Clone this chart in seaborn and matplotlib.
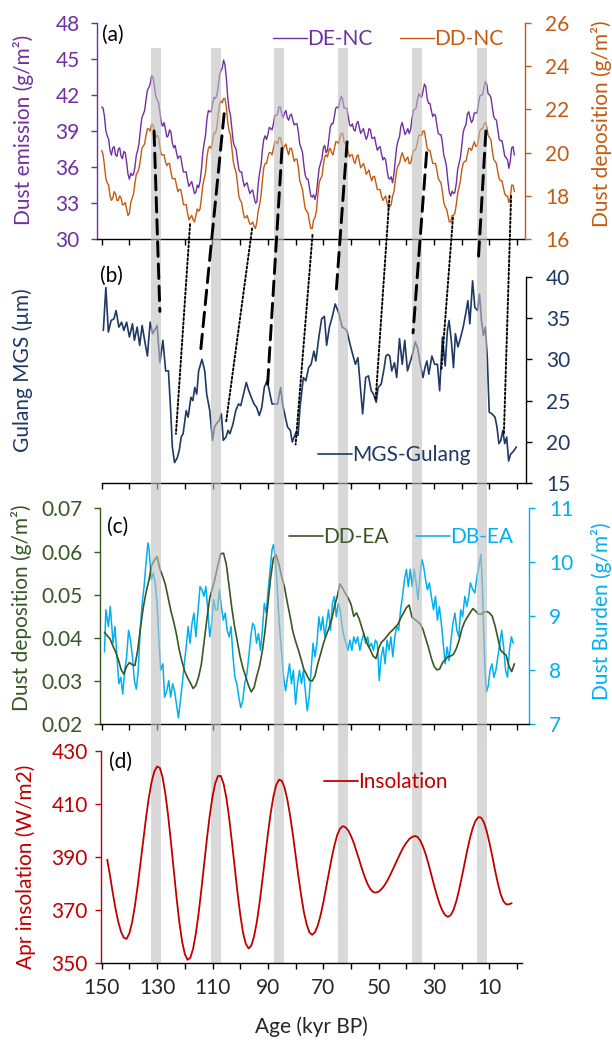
import numpy as np
import matplotlib
matplotlib.use("Agg")
import matplotlib.pyplot as plt
import seaborn as sns
from matplotlib.patches import ConnectionPatch
from matplotlib.ticker import FormatStrFormatter

# ---- data (age in kyr BP) ----
# (a) North China dust emission / deposition: values at whole kyr (150 -> 1)
# and at the half-kyr points in between (149.5 -> 1.5)
de_nc = [41.0, 40.2, 38.6, 37.4, 37.6, 37.0, 37.5, 36.9, 37.3, 36.4,
         35.0, 35.3, 36.0, 37.4, 39.2, 40.4, 41.6, 42.6, 43.6, 42.8,
         41.6, 40.6, 39.4, 39.2, 38.6, 38.9, 37.6, 37.2, 36.9, 36.2,
         35.6, 34.9, 34.6, 34.3, 33.9, 34.3, 35.8, 38.0, 40.0, 40.6,
         41.2, 41.7, 42.6, 44.0, 44.9, 43.4, 40.8, 39.2, 37.7, 36.6,
         35.6, 34.9, 34.6, 34.2, 34.0, 33.5, 33.1, 35.5, 37.4, 38.6,
         38.7, 39.2, 39.6, 40.3, 41.0, 40.4, 40.5, 40.1, 40.3, 39.9,
         39.6, 38.9, 37.6, 36.1, 35.0, 34.3, 33.5, 33.3, 34.9, 36.3,
         37.6, 37.2, 38.3, 39.6, 40.2, 41.0, 41.5, 41.6, 40.9, 40.2,
         39.4, 39.1, 39.6, 39.3, 39.0, 38.7, 38.6, 39.1, 38.4, 37.9,
         37.6, 37.1, 36.8, 35.8, 35.0, 34.7, 36.6, 38.2, 39.4, 39.2,
         38.9, 38.8, 40.0, 40.8, 41.6, 41.9, 42.3, 42.7, 41.3, 40.7,
         40.4, 39.5, 38.7, 38.0, 36.6, 34.8, 33.6, 33.8, 34.6, 36.3,
         37.8, 39.3, 40.4, 40.1, 39.9, 40.5, 41.2, 42.0, 42.6, 42.9,
         42.0, 41.0, 40.0, 39.1, 38.2, 37.6, 36.8, 35.9, 37.6, 37.0]
de_nc_half = [40.9, 39.0, 38.3, 37.0, 37.7, 36.9, 37.6, 36.7, 37.2, 35.4,
              35.5, 35.4, 37.0, 38.0, 40.1, 40.7, 42.4, 42.9, 43.5, 41.9,
              41.4, 39.7, 39.7, 38.5, 39.1, 38.0, 37.8, 36.7, 36.9, 35.6,
              35.6, 34.4, 34.8, 33.8, 34.5, 34.8, 37.2, 38.7, 40.7, 40.6,
              41.8, 41.9, 43.6, 44.2, 44.5, 41.8, 40.3, 38.1, 37.5, 35.8,
              35.6, 34.4, 34.7, 33.8, 34.1, 33.0, 34.6, 36.1, 38.3, 38.3,
              39.3, 39.1, 40.3, 40.4, 41.0, 40.1, 40.7, 39.9, 40.4, 39.5,
              39.6, 37.9, 37.2, 35.3, 35.0, 33.6, 33.7, 33.8, 35.9, 36.7,
              37.8, 37.4, 39.3, 39.6, 40.9, 40.9, 41.9, 40.9, 40.9, 39.5,
              39.6, 39.0, 39.8, 38.8, 39.2, 38.3, 39.2, 38.4, 38.5, 37.4,
              37.7, 36.6, 36.6, 35.1, 35.2, 35.4, 37.7, 38.5, 39.7, 38.7,
              39.2, 39.1, 40.7, 40.9, 42.1, 41.8, 42.9, 41.7, 41.3, 40.2,
              40.3, 38.8, 38.7, 37.0, 36.0, 33.9, 34.0, 33.9, 35.8, 36.8,
              38.9, 39.5, 40.6, 39.7, 40.5, 40.5, 41.9, 42.0, 43.1, 42.1,
              41.8, 40.2, 39.9, 38.3, 38.2, 36.9, 36.6, 36.5, 37.7]
dd_nc = [20.1, 19.4, 18.6, 18.0, 17.9, 18.1, 17.8, 17.9, 17.6, 17.4,
         17.2, 17.9, 18.6, 19.1, 19.7, 20.3, 20.8, 21.1, 21.3, 21.0,
         20.8, 20.3, 19.9, 19.6, 19.5, 19.1, 18.8, 18.5, 18.3, 18.0,
         17.6, 17.2, 17.0, 16.9, 17.1, 17.3, 17.9, 18.8, 19.8, 20.3,
         20.5, 20.9, 21.7, 22.4, 22.5, 22.1, 21.0, 20.2, 19.3, 18.6,
         17.8, 17.3, 17.0, 16.9, 16.7, 16.6, 16.8, 17.6, 18.7, 19.5,
         19.8, 20.0, 20.2, 20.5, 20.7, 20.4, 20.3, 20.1, 20.2, 19.9,
         19.7, 19.3, 18.5, 17.8, 17.3, 16.8, 16.5, 17.0, 18.0, 18.8,
         19.4, 19.9, 20.1, 20.0, 20.2, 20.5, 20.7, 20.9, 20.4, 20.0,
         19.9, 19.6, 19.8, 19.6, 19.4, 19.3, 19.1, 18.9, 18.9, 18.6,
         18.3, 18.0, 17.9, 17.7, 17.5, 18.0, 18.7, 19.4, 19.8, 19.8,
         19.7, 19.5, 19.8, 20.1, 20.5, 20.8, 21.0, 20.6, 20.1, 19.8,
         19.5, 19.2, 18.7, 18.2, 17.5, 17.1, 16.8, 17.1, 17.6, 18.4,
         19.2, 19.6, 19.9, 20.2, 20.3, 20.3, 20.6, 21.1, 21.3, 21.2,
         20.7, 20.1, 19.6, 19.1, 18.7, 18.4, 18.0, 17.7, 18.5, 18.2]
dd_nc_half = [19.9, 18.8, 18.5, 17.8, 18.2, 17.8, 18.0, 17.6, 17.7, 17.1,
              17.7, 18.1, 19.0, 19.3, 20.2, 20.4, 21.1, 21.0, 21.3, 20.7,
              20.7, 19.9, 19.9, 19.4, 19.5, 18.8, 18.8, 18.2, 18.3, 17.6,
              17.6, 16.9, 17.1, 16.8, 17.4, 17.4, 18.5, 19.1, 20.2, 20.2,
              20.9, 21.1, 22.2, 22.3, 22.5, 21.4, 20.8, 19.6, 19.1, 18.0,
              17.7, 17.0, 17.1, 16.7, 16.8, 16.5, 17.3, 18.0, 19.3, 19.5,
              20.0, 19.9, 20.5, 20.4, 20.7, 20.2, 20.4, 19.9, 20.2, 19.6,
              19.7, 18.7, 18.3, 17.4, 17.2, 16.5, 16.9, 17.3, 18.6, 18.9,
              19.8, 19.8, 20.2, 19.9, 20.5, 20.4, 20.9, 20.5, 20.4, 19.8,
              19.9, 19.5, 19.9, 19.3, 19.5, 19.0, 19.2, 18.7, 18.9, 18.3,
              18.3, 17.8, 18.0, 17.4, 17.6, 18.2, 19.2, 19.5, 20.0, 19.6,
              19.8, 19.5, 20.1, 20.2, 20.8, 20.8, 21.0, 20.2, 20.1, 19.5,
              19.5, 18.8, 18.6, 17.7, 17.4, 16.8, 17.1, 17.2, 18.1, 18.7,
              19.5, 19.6, 20.2, 20.1, 20.5, 20.3, 21.0, 21.1, 21.4, 20.8,
              20.6, 19.7, 19.5, 18.8, 18.7, 18.1, 18.0, 17.9, 18.5]

# (b) Gulang mean grain size
age_mgs = [149.4, 148.5, 147.6, 146.6, 145.6, 144.8, 143.8, 142.8, 142.0, 141.0,
           140.0, 138.9, 138.2, 137.2, 136.3, 135.4, 134.4, 133.5, 132.5, 131.6,
           130.0, 129.0, 127.9, 126.9, 125.9, 125.1, 124.5, 123.7, 122.7, 122.0,
           121.3, 120.6, 119.5, 118.8, 117.8, 117.1, 116.4, 115.7, 115.0, 113.8,
           112.8, 112.1, 111.0, 110.0, 109.3, 108.6, 107.6, 106.8, 106.1, 105.1,
           104.4, 103.7, 102.6, 101.6, 100.6, 99.8, 98.8, 97.8, 96.9, 96.0,
           95.0, 94.1, 93.1, 92.2, 91.3, 90.3, 89.6, 88.5, 87.5, 86.5,
           85.4, 84.7, 83.7, 82.9, 81.9, 81.2, 80.5, 79.8, 79.1, 78.4,
           77.2, 76.3, 75.3, 74.4, 73.4, 72.7, 71.6, 70.6, 69.6, 68.8,
           67.8, 66.8, 65.7, 65.0, 64.3, 63.2, 62.2, 61.5, 60.4, 59.4,
           58.4, 57.5, 56.6, 55.8, 54.7, 53.7, 52.7, 51.9, 50.9, 50.2,
           49.1, 48.1, 47.4, 46.7, 46.0, 45.3, 44.3, 43.5, 42.5, 41.5,
           40.6, 39.6, 38.9, 37.8, 36.8, 35.9, 35.0, 34.0, 33.3, 32.6,
           31.9, 30.8, 29.8, 28.8, 28.0, 27.0, 26.0, 25.2, 24.6, 23.8,
           23.0, 22.3, 21.4, 20.7, 19.5, 18.5, 17.8, 17.1, 16.1, 15.3,
           14.3, 13.6, 12.9, 12.2, 11.5, 10.8, 10.1, 9.1, 8.0, 7.3,
           6.6, 5.9, 5.2, 4.5, 3.8, 3.1, 2.4, 1.3, 0.3]
mgs = [33.5, 38.7, 33.3, 34.7, 34.9, 35.9, 33.9, 34.5, 33.5, 34.5,
       32.7, 34.3, 32.3, 33.9, 31.7, 34.1, 32.1, 30.4, 34.5, 33.1,
       34.1, 29.6, 32.3, 28.6, 28.6, 23.8, 19.4, 17.5, 18.1, 19.0,
       20.6, 21.0, 23.8, 23.0, 25.4, 25.0, 26.6, 25.8, 28.6, 30.0,
       28.6, 25.8, 23.8, 20.2, 21.8, 22.2, 22.6, 23.4, 20.2, 20.6,
       21.4, 21.0, 22.2, 23.8, 24.6, 24.4, 25.8, 27.2, 26.2, 25.4,
       24.6, 24.2, 23.2, 24.2, 26.6, 27.4, 26.4, 24.6, 24.6, 24.6,
       26.6, 24.6, 23.0, 21.8, 21.4, 20.0, 20.6, 21.2, 20.8, 24.2,
       27.8, 27.4, 29.0, 29.4, 31.0, 29.8, 32.7, 34.9, 35.2, 31.7,
       33.9, 35.1, 36.7, 36.1, 35.5, 33.9, 33.7, 33.5, 31.9, 30.6,
       29.4, 30.2, 26.6, 23.4, 27.8, 28.0, 26.2, 25.8, 24.8, 26.6,
       27.0, 28.8, 30.4, 30.6, 30.4, 28.6, 29.6, 27.8, 32.5, 29.4,
       32.3, 28.6, 29.4, 30.6, 32.1, 31.3, 29.4, 27.8, 29.0, 29.8,
       28.2, 30.4, 29.4, 29.4, 26.2, 32.7, 29.2, 33.5, 34.7, 32.3,
       29.0, 33.1, 31.5, 32.3, 33.9, 35.7, 37.1, 34.3, 39.5, 36.3,
       35.9, 37.9, 34.7, 32.9, 33.9, 30.2, 23.6, 23.4, 23.0, 21.8,
       19.8, 20.2, 21.4, 19.8, 20.6, 17.7, 18.5, 18.9, 19.4]

# (c) East Asia dust deposition (one value per kyr, 149 -> 1) and dust burden
age_ea = np.arange(149, 0, -1)
dd_ea = [0.0413, 0.0405, 0.0398, 0.0382, 0.0368, 0.0350, 0.0327, 0.0316, 0.0334, 0.0343,
         0.0338, 0.0336, 0.0372, 0.0424, 0.0470, 0.0505, 0.0532, 0.0567, 0.0580, 0.0588,
         0.0560, 0.0543, 0.0523, 0.0493, 0.0462, 0.0437, 0.0408, 0.0372, 0.0345, 0.0322,
         0.0308, 0.0296, 0.0283, 0.0290, 0.0310, 0.0340, 0.0392, 0.0445, 0.0492, 0.0515,
         0.0540, 0.0570, 0.0595, 0.0596, 0.0570, 0.0520, 0.0468, 0.0425, 0.0390, 0.0356,
         0.0330, 0.0310, 0.0290, 0.0275, 0.0285, 0.0312, 0.0335, 0.0370, 0.0418, 0.0480,
         0.0540, 0.0585, 0.0592, 0.0570, 0.0540, 0.0518, 0.0482, 0.0450, 0.0415, 0.0392,
         0.0372, 0.0350, 0.0327, 0.0315, 0.0302, 0.0300, 0.0312, 0.0340, 0.0362, 0.0386,
         0.0405, 0.0422, 0.0442, 0.0472, 0.0495, 0.0525, 0.0515, 0.0502, 0.0492, 0.0478,
         0.0450, 0.0458, 0.0443, 0.0422, 0.0402, 0.0384, 0.0372, 0.0358, 0.0352, 0.0376,
         0.0390, 0.0396, 0.0404, 0.0412, 0.0418, 0.0425, 0.0432, 0.0447, 0.0458, 0.0470,
         0.0476, 0.0448, 0.0443, 0.0438, 0.0432, 0.0419, 0.0398, 0.0377, 0.0353, 0.0334,
         0.0326, 0.0328, 0.0342, 0.0350, 0.0356, 0.0358, 0.0362, 0.0375, 0.0394, 0.0420,
         0.0437, 0.0448, 0.0458, 0.0468, 0.0462, 0.0455, 0.0455, 0.0460, 0.0461, 0.0458,
         0.0450, 0.0428, 0.0400, 0.0372, 0.0365, 0.0360, 0.0335, 0.0322, 0.0340]
age_db = [149.0, 148.5, 147.6, 146.9, 145.9, 145.2, 144.5, 143.8, 143.1, 142.4,
          141.7, 141.0, 140.3, 139.6, 138.9, 138.2, 137.5, 136.8, 136.1, 135.4,
          134.7, 134.0, 133.3, 132.9, 132.1, 131.4, 130.7, 130.0, 129.3, 128.7,
          127.9, 127.3, 126.5, 125.8, 125.1, 124.4, 123.7, 123.0, 122.3, 121.6,
          120.9, 120.2, 119.5, 118.8, 118.1, 117.4, 116.7, 116.0, 115.2, 114.5,
          113.8, 113.1, 112.4, 111.7, 111.0, 110.3, 109.6, 108.9, 108.2, 107.5,
          106.8, 106.1, 105.4, 104.7, 104.0, 103.3, 102.6, 101.9, 101.2, 100.5,
          99.8, 99.1, 98.4, 97.6, 96.9, 96.2, 95.5, 94.8, 94.1, 93.4,
          92.7, 92.0, 91.3, 90.6, 89.9, 89.2, 88.5, 88.0, 87.4, 86.8,
          86.2, 85.7, 85.0, 84.3, 83.6, 82.9, 82.2, 81.5, 80.8, 80.0,
          79.3, 78.6, 77.9, 77.2, 76.5, 75.8, 75.1, 74.4, 73.7, 73.0,
          72.3, 71.6, 70.9, 70.2, 69.5, 68.8, 68.1, 67.4, 66.7, 66.0,
          65.3, 64.6, 63.9, 63.2, 62.5, 61.8, 61.1, 60.4, 59.7, 59.0,
          58.3, 57.6, 56.8, 56.1, 55.4, 54.7, 54.0, 53.3, 52.6, 51.9,
          51.2, 50.5, 49.8, 49.1, 48.4, 47.7, 47.0, 46.3, 45.6, 44.9,
          44.2, 43.5, 42.8, 42.1, 41.4, 40.7, 40.0, 39.3, 38.6, 37.9,
          37.2, 36.5, 35.8, 35.1, 34.4, 33.8, 33.1, 32.4, 31.7, 31.0,
          30.2, 29.5, 28.8, 28.1, 27.4, 26.7, 26.0, 25.3, 24.6, 23.9,
          23.2, 22.5, 21.8, 21.1, 20.4, 19.7, 18.9, 18.2, 17.5, 16.9,
          16.1, 15.3, 14.5, 13.8, 13.1, 12.6, 12.1, 11.6, 11.1, 10.5,
          9.8, 9.1, 8.4, 7.7, 7.0, 6.3, 5.6, 4.9, 4.2, 3.5,
          2.8, 2.1, 1.4]
db_ea = [8.34, 9.12, 8.81, 9.18, 8.50, 8.81, 8.25, 7.75, 7.87, 7.56,
         8.00, 8.25, 8.74, 8.56, 8.25, 7.81, 7.65, 8.00, 8.74, 9.24,
         9.55, 9.99, 10.36, 10.24, 9.68, 9.80, 9.62, 9.24, 8.50, 8.00,
         8.12, 7.50, 7.62, 7.81, 7.50, 7.75, 7.62, 7.37, 7.12, 7.44,
         7.75, 8.12, 8.43, 8.81, 8.50, 8.87, 9.06, 8.62, 9.12, 9.55,
         9.49, 9.37, 9.55, 9.12, 8.62, 8.87, 9.31, 9.12, 9.12, 9.49,
         9.18, 8.93, 9.06, 8.74, 8.62, 8.81, 8.25, 7.87, 7.75, 7.50,
         7.31, 7.44, 7.75, 7.93, 8.25, 8.62, 8.87, 8.81, 8.50, 8.68,
         8.37, 8.74, 9.24, 9.06, 9.49, 9.87, 10.24, 10.33, 10.12, 9.68,
         9.12, 8.74, 8.31, 7.87, 7.62, 7.87, 8.12, 7.75, 8.00, 7.37,
         7.75, 8.00, 7.75, 8.00, 7.62, 7.25, 7.50, 8.00, 8.50, 8.25,
         8.50, 8.99, 8.74, 8.99, 8.62, 8.87, 9.12, 8.74, 9.24, 9.37,
         8.99, 9.24, 9.12, 8.81, 8.62, 8.50, 8.37, 8.56, 8.37, 8.62,
         8.50, 8.62, 8.37, 8.56, 8.68, 8.50, 8.62, 8.43, 8.50, 8.37,
         8.56, 8.50, 7.81, 8.25, 8.43, 8.12, 8.56, 8.37, 8.62, 8.25,
         8.62, 8.81, 8.74, 9.12, 9.37, 9.68, 9.87, 9.55, 9.87, 9.55,
         9.87, 9.62, 9.31, 9.74, 10.05, 9.93, 9.68, 9.49, 9.62, 9.37,
         9.12, 9.37, 8.93, 9.18, 8.87, 8.50, 8.12, 8.43, 8.18, 8.56,
         8.87, 9.06, 8.74, 8.62, 9.12, 8.99, 9.37, 9.18, 9.37, 9.62,
         9.50, 9.43, 9.74, 9.95, 10.15, 9.60, 8.70, 7.95, 7.60, 7.70,
         8.00, 8.12, 7.87, 8.00, 8.25, 8.50, 8.74, 8.43, 8.00, 7.87,
         8.37, 8.62, 8.50]

# (d) April insolation, one value per kyr, 148 -> 2
age_ins = np.arange(148, 1, -1)
insolation = [389.0, 383.0, 376.5, 370.5, 365.5, 361.8, 359.6, 359.2, 361.3, 365.5,
              371.7, 379.2, 387.7, 396.4, 404.7, 412.2, 418.2, 422.2, 424.1, 423.5,
              419.9, 413.7, 405.4, 395.6, 385.1, 374.9, 365.7, 358.4, 353.5, 351.3,
              352.1, 355.5, 361.3, 368.9, 377.9, 387.5, 397.0, 405.6, 412.7, 417.8,
              420.5, 420.5, 417.6, 412.3, 404.8, 395.8, 386.2, 376.8, 368.4, 361.6,
              357.4, 355.6, 356.6, 360.1, 365.5, 372.8, 381.2, 390.1, 398.7, 406.5,
              412.8, 417.1, 419.1, 418.7, 416.2, 411.7, 405.7, 398.6, 390.8, 382.8,
              375.6, 369.2, 364.6, 361.6, 360.7, 361.7, 364.2, 368.0, 372.8, 378.3,
              384.0, 389.5, 394.3, 398.2, 400.6, 401.6, 401.2, 400.0, 397.9, 395.3,
              392.1, 388.8, 385.4, 382.4, 379.8, 377.9, 376.8, 376.6, 377.0, 377.9,
              379.2, 380.9, 382.9, 385.1, 387.4, 389.6, 391.8, 393.8, 395.4, 396.7,
              397.5, 397.9, 397.6, 396.2, 393.9, 390.9, 387.3, 383.3, 379.3, 375.6,
              372.3, 369.8, 368.1, 367.5, 368.1, 370.1, 373.3, 377.5, 382.4, 387.6,
              392.7, 397.3, 401.1, 403.7, 405.0, 404.8, 403.0, 399.7, 395.3, 390.3,
              385.0, 380.2, 376.1, 373.4, 372.2, 372.2, 372.6]

# shaded intervals (centre age) and tie lines between panels (a) and (b)
band_centres = [130.4, 108.6, 86.0, 63.0, 36.1, 12.6]
band_width = 3.6
tie_age_a = [131.1, 118.1, 105.8, 95.7, 84.9, 73.9, 61.4, 46.1, 32.7, 23.2, 11.3, 2.2]
tie_dd_a = [21.0, 16.7, 21.8, 16.5, 20.2, 16.2, 20.5, 18.0, 20.0, 17.0, 21.0, 18.0]
tie_age_b = [129.0, 123.2, 114.2, 105.1, 90.1, 80.0, 65.4, 51.1, 37.6, 27.4, 14.0, 4.8]
tie_mgs_b = [35.8, 21.0, 31.3, 22.4, 27.0, 19.7, 37.9, 25.1, 33.2, 28.6, 42.2, 21.0]
tie_kind = ["dash", "dot"] * 6

# whole-kyr and half-kyr readings merged into one series
age_nc = np.arange(150, 0.75, -0.5)
de_series = np.empty(len(age_nc))
de_series[0::2], de_series[1::2] = de_nc, de_nc_half
dd_series = np.empty(len(age_nc))
dd_series[0::2], dd_series[1::2] = dd_nc, dd_nc_half

# ---- style ----
sns.set_theme(style="white")
plt.rcParams["font.family"] = ["Lato", "DejaVu Sans"]

purple = "#7030A0"
orange = "#C55A11"
navy = "#1F3864"
green = "#385723"
blue = "#00B0F0"
red = "#C00000"
ink = "#262626"
FS = 15

W, H = 612, 1040
X150, PX_KYR = 101.7, 2.77


def kyr_at(px):
    return 150 - (px - X150) / PX_KYR


fig = plt.figure(figsize=(W / 100, H / 100), dpi=100)


def make_axes(left, right, top, bottom):
    ax = fig.add_axes([left / W, 1 - bottom / H, (right - left) / W, (bottom - top) / H])
    ax.set_xlim(kyr_at(left), kyr_at(right))
    ax.set_facecolor("none")
    for s in ax.spines.values():
        s.set_visible(False)
    return ax


def style_spine(ax, side, color):
    ax.spines[side].set_visible(True)
    ax.spines[side].set_color(color)
    ax.spines[side].set_linewidth(1.0)


def style_x(ax, labels=False):
    style_spine(ax, "bottom", "black")
    if labels:
        ax.set_xticks(np.arange(150, 9, -20))
        ax.set_xticks(np.arange(140, -1, -20), minor=True)
    else:
        ax.set_xticks(np.arange(150, -1, -10))
    ax.tick_params(axis="x", which="both", bottom=True, direction="out", length=4.5,
                   width=1.0, color="black", labelbottom=labels, labelsize=FS,
                   labelcolor=ink, pad=6)


def style_y(ax, side, color, ticks, pad=8):
    style_spine(ax, side, color)
    ax.set_yticks(ticks)
    left = side == "left"
    ax.tick_params(axis="y", left=left, right=not left, labelleft=left,
                   labelright=not left, direction="out", length=4.5, width=1.0,
                   color=color, labelcolor=color, labelsize=FS, pad=pad)


def draw(ax, x, y, color, lw):
    sns.lineplot(x=x, y=y, ax=ax, color=color, lw=lw, sort=False, estimator=None,
                 legend=False)
    ax.set_xlabel("")
    ax.set_ylabel("")


def add_legend(handles, labels, x_px, y_px):
    fig.legend(handles, labels, loc="center left", bbox_to_anchor=(x_px / W, 1 - y_px / H),
               bbox_transform=fig.transFigure, ncol=len(handles), frameon=False,
               fontsize=FS, handlelength=1.65, handletextpad=0.0, columnspacing=1.3,
               borderpad=0, borderaxespad=0, labelcolor="linecolor")


# ---- panel (a) ----
ax_a = make_axes(97, 525, 22.7, 239.3)
ax_a2 = ax_a.twinx()
ax_a2.set_facecolor("none")
for s in ax_a2.spines.values():
    s.set_visible(False)
draw(ax_a, age_nc, de_series, purple, 1.0)
draw(ax_a2, age_nc, dd_series, orange, 1.0)
ax_a.set_ylim(30, 48)
ax_a2.set_ylim(16, 26)
style_x(ax_a)
style_y(ax_a, "left", purple, np.arange(30, 49, 3))
style_y(ax_a2, "right", orange, np.arange(16, 27, 2), pad=10)
add_legend([ax_a.lines[0], ax_a2.lines[0]], ["DE-NC", "DD-NC"], 273, 39)

# ---- panel (b) ----
ax_b = make_axes(101.7, 526, 276.7, 483.3)
draw(ax_b, age_mgs, mgs, navy, 1.2)
ax_b.set_ylim(15, 40)
style_x(ax_b)
style_y(ax_b, "right", "black", np.arange(15, 41, 5), pad=10)
ax_b.tick_params(axis="y", labelcolor=navy)
add_legend([ax_b.lines[0]], ["MGS-Gulang"], 318, 455)

# ---- panel (c) ----
ax_c = make_axes(100, 529, 508.3, 724.3)
ax_c2 = ax_c.twinx()
ax_c2.set_facecolor("none")
for s in ax_c2.spines.values():
    s.set_visible(False)
draw(ax_c2, age_db, db_ea, blue, 1.1)
draw(ax_c, age_ea, dd_ea, green, 1.2)
ax_c.set_zorder(ax_c2.get_zorder() + 0.1)
ax_c.set_ylim(0.02, 0.07)
ax_c2.set_ylim(7, 11)
style_x(ax_c)
style_y(ax_c, "left", green, np.arange(0.02, 0.071, 0.01))
ax_c.yaxis.set_major_formatter(FormatStrFormatter("%.2f"))
style_y(ax_c2, "right", blue, np.arange(7, 12, 1), pad=10)
add_legend([ax_c.lines[0], ax_c2.lines[0]], ["DD-EA", "DB-EA"], 289, 537)

# ---- panel (d) ----
ax_d = make_axes(101, 521.7, 750.7, 963.3)
for c in band_centres:
    ax_d.axvspan(c + band_width / 2, c - band_width / 2, color="#D9D9D9", lw=0, zorder=0)
draw(ax_d, age_ins, insolation, red, 1.3)
ax_d.set_ylim(350, 430)
style_x(ax_d, labels=True)
style_y(ax_d, "left", red, np.arange(350, 431, 20), pad=5)
add_legend([ax_d.lines[0]], ["Insolation"], 324, 782)

# ---- grey bands through panels (a)-(c), drawn over the curves ----
ov = make_axes(97, 529, 48, 750.7)
ov.set_ylim(0, 1)
ov.set_xticks([])
ov.set_yticks([])
ov.set_zorder(5)
for c in band_centres:
    ov.axvspan(c + band_width / 2, c - band_width / 2, color="#BFBFBF", alpha=0.6, lw=0)

# ---- tie lines (a) -> (b) ----
for xa, ya, xb, yb, kind in zip(tie_age_a, tie_dd_a, tie_age_b, tie_mgs_b, tie_kind):
    if kind == "dash":
        ls, lw = (0, (5, 2.6)), 2.1
    else:
        ls, lw = (0, (1, 1.2)), 1.4
    con = ConnectionPatch(xyA=(xa, ya), coordsA=ax_a2.transData,
                          xyB=(xb, yb), coordsB=ax_b.transData,
                          color="black", lw=lw, linestyle=ls, zorder=6)
    fig.add_artist(con)


# ---- text ----
def ftext(x, y, s, **kw):
    fig.text(x / W, 1 - y / H, s, fontsize=FS, **kw)


ftext(102, 35, "(a)", ha="left", va="center", color="black")
ftext(100, 276, "(b)", ha="left", va="center", color="black")
ftext(107, 527, "(c)", ha="left", va="center", color="black")
ftext(109, 762, "(d)", ha="left", va="center", color="black")

ftext(24, 130, "Dust emission (g/m²)", rotation=90, ha="center", va="center", color=purple)
ftext(601, 124, "Dust deposition (g/m²)", rotation=90, ha="center", va="center", color=orange)
ftext(23, 370, "Gulang MGS (µm)", rotation=90, ha="center", va="center", color=navy)
ftext(22, 608, "Dust deposition (g/m²)", rotation=90, ha="center", va="center", color=green)
ftext(601, 611, "Dust Burden (g/m²)", rotation=90, ha="center", va="center", color=blue)
ftext(26, 867, "Apr insolation (W/m2)", rotation=90, ha="center", va="center", color=red)
ftext(311, 1027, "Age (kyr BP)", ha="center", va="center", color=ink)

fig.savefig("out.png", dpi=100)
